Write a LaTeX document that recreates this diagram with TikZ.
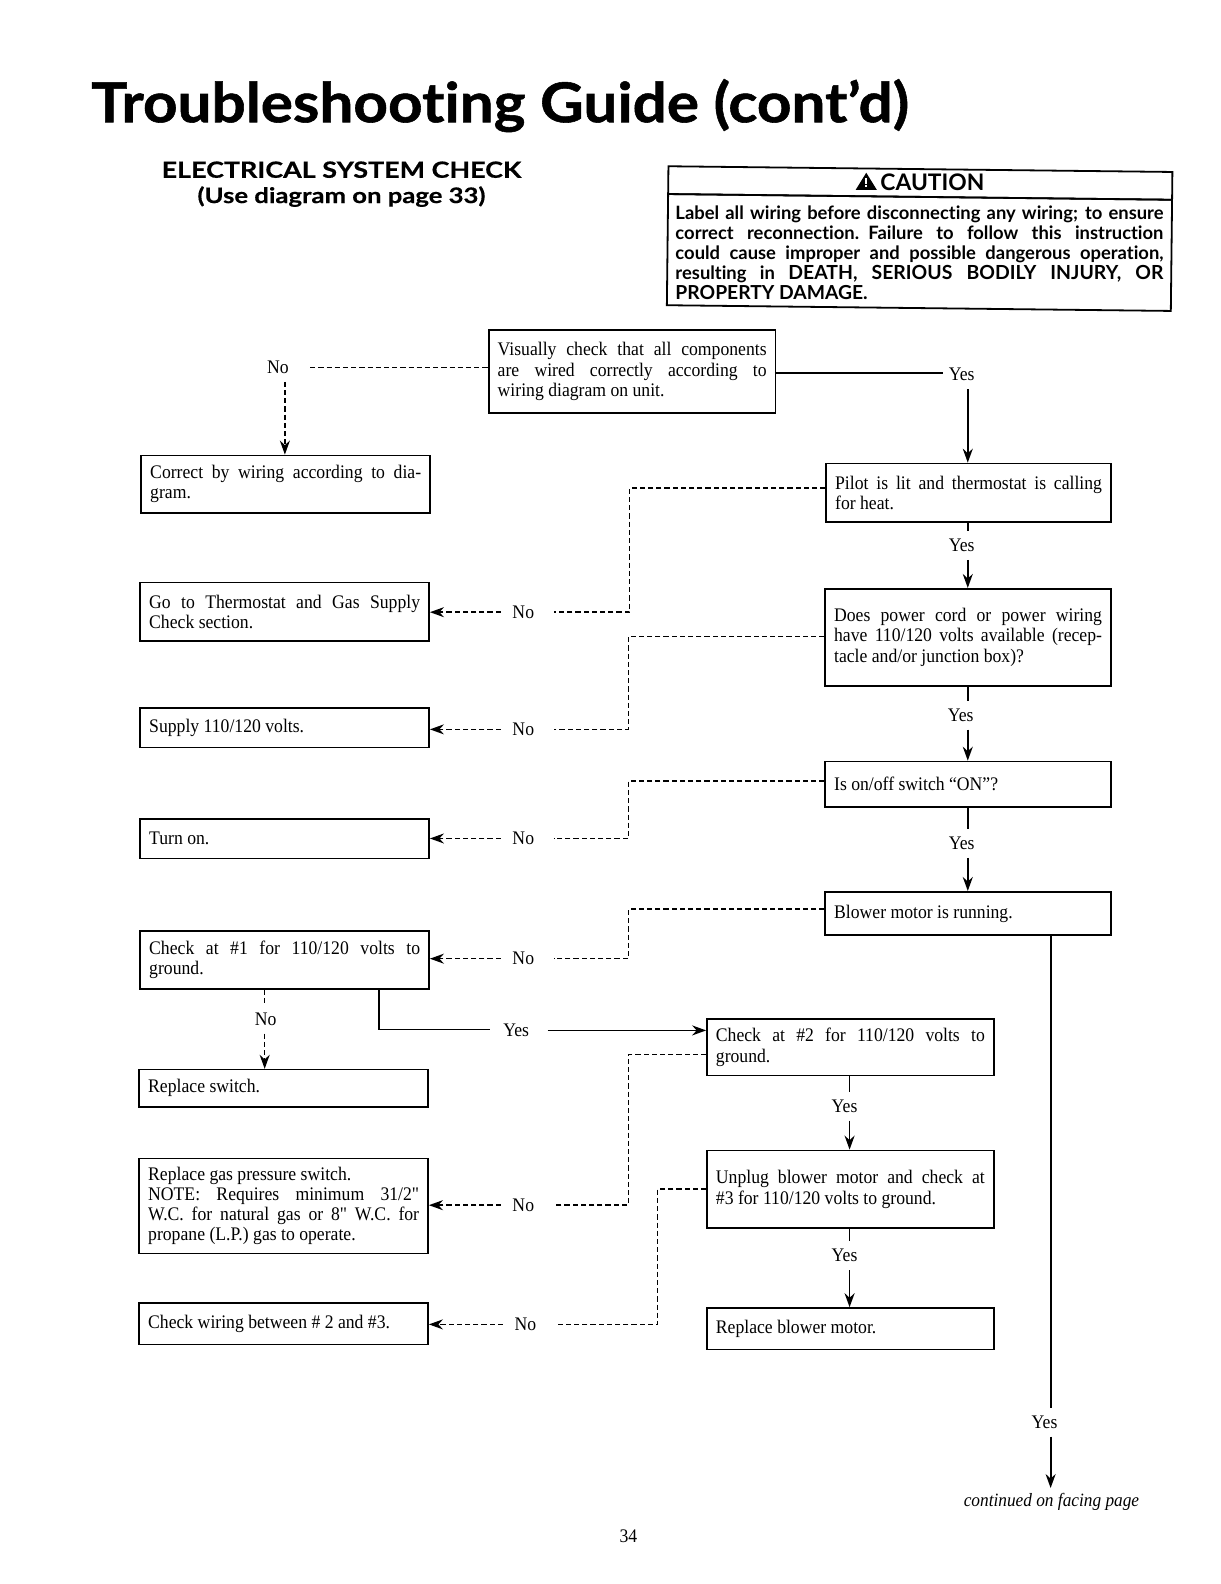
\documentclass[tikz,border=0pt]{standalone}
\usepackage{fontspec}
\setmainfont[FakeStretch=0.92]{Liberation Serif}
\newfontfamily\quotefont[FakeStretch=0.92]{Liberation Serif}
\newcommand{\straightq}{{\quotefont"}}
\newfontfamily\headfont[Ligatures=NoCommon]{Lato}
\newfontfamily\headwide[Ligatures=NoCommon,FakeStretch=1.2,BoldFeatures={FakeBold=0.5}]{Lato}
\newfontfamily\titlefont[Ligatures=NoCommon,FakeStretch=1.095,BoldFeatures={FakeBold=1}]{Lato}
\usetikzlibrary{arrows.meta}
\newcommand{\jl}[1]{\leavevmode\hbox to \hsize{#1}}
\newcommand{\flowbox}[6]{%
  \pgfmathsetmacro{\bw}{(#4-#2)*0.505102-9}%
  \pgfmathsetmacro{\bh}{(#5-#3)*0.505102}%
  \node[flowbox style,anchor=north west,text width=\bw pt,minimum height=\bh pt] (#1) at (#2,#3) {\spaceskip=0pt\relax #6};%
}
\tikzset{
  x=0.505102pt,y=-0.505102pt,
  flowbox style/.style={draw=black,line width=0.8pt,inner xsep=4.5pt,inner ysep=0pt,align=left,
    font=\fontsize{9.6}{10.1}\selectfont},
  answer/.style={inner sep=0pt,minimum width=26pt,minimum height=14pt,font=\fontsize{9.6}{10}\selectfont},
  dashline/.style={line width=0.7pt,dash pattern=on 2.6pt off 1.5pt},
  solidline/.style={line width=0.9pt},
  tip/.style={-{Stealth[length=7pt,width=5pt]}},
  plain/.style={inner sep=0pt},
}
\begin{document}
\begin{tikzpicture}
\useasboundingbox (0,0) rectangle (1207.68,1568);
\fill[white] (0,0) rectangle (1207.68,1568);

% Headings
\node[plain,anchor=base west] (title) at (90,121) {\titlefont\bfseries\fontsize{27.5}{30}\selectfont Troubleshooting Guide (cont’d)};
\node[plain,anchor=base] (head1) at (338,176) {\headwide\bfseries\fontsize{11.2}{14}\selectfont ELECTRICAL SYSTEM CHECK};
\node[plain,anchor=base] (head2) at (338,201) {\headwide\bfseries\fontsize{10.7}{14}\selectfont (Use diagram on page 33)};

% Caution panel: the frame follows the slight skew of the page
\begin{scope}[rotate around={-0.65:(910,235)},every node/.append style={transform shape}]
\node[draw=black,line width=0.9pt,anchor=north west,minimum width=252pt,minimum height=13.9pt,inner sep=0pt] (cauthead) at (660,166.5) {};
\node[draw=black,line width=0.9pt,anchor=north west,minimum width=252pt,minimum height=55.6pt,inner sep=0pt] (cautframe) at (660,194) {};
\end{scope}
\node[plain,anchor=base] (cauttext) at (923,189) {\headfont\bfseries\fontsize{11.4}{12}\selectfont CAUTION};
\fill (847,188) -- (857.5,171) -- (868,188) -- cycle;
\fill[white] (856.5,176) rectangle (858.5,182);
\fill[white] (856.5,183.5) rectangle (858.5,185.5);
\node[anchor=center,text width=244pt,inner sep=0pt,align=left,
  font=\headfont\bfseries\fontsize{9.2}{10}\selectfont] (cautbody) at (cautframe.center) {\spaceskip=0pt\relax
\jl{Label all wiring before disconnecting any wiring; to ensure}\\
\jl{correct reconnection. Failure to follow this instruction}\\
\jl{could cause improper and possible dangerous operation,}\\
\jl{resulting in {\fontsize{9.7}{10}\selectfont DEATH, SERIOUS BODILY INJURY, OR}}\\
{\fontsize{9.65}{10}\selectfont PROPERTY DAMAGE.}};

% Boxes: right column
\flowbox{visual}{483}{326}{767}{408}{\jl{Visually check that all components}\\\jl{are wired correctly according to}\\wiring diagram on unit.}
\flowbox{pilot}{817}{458}{1099}{516}{\jl{Pilot is lit and thermostat is calling}\\for heat.}
\flowbox{power}{816}{582}{1099}{678}{\jl{Does power cord or power wiring}\\\jl{have 110/120 volts available (recep-}\\tacle and/or junction box)?}
\flowbox{onoff}{816}{753}{1099}{798}{Is on/off switch “ON”?}
\flowbox{blower}{816}{882}{1099}{925}{Blower motor is running.}
\flowbox{checktwo}{699}{1008}{983}{1064}{\jl{Check at \#2 for 110/120 volts to}\\ground.}
\flowbox{unplug}{699}{1138}{983}{1215}{\jl{Unplug blower motor and check at}\\\#3 for 110/120 volts to ground.}
\flowbox{replblower}{699}{1294}{983}{1335}{Replace blower motor.}

% Boxes: left column
\flowbox{correct}{139}{450}{425}{507}{\jl{Correct by wiring according to dia-}\\gram.}
\flowbox{goto}{138}{576}{424}{634}{\jl{Go to Thermostat and Gas Supply}\\Check section.}
\flowbox{supply}{138}{700}{424}{739}{Supply 110/120 volts.}
\flowbox{turnon}{138}{810}{424}{849}{Turn on.}
\flowbox{checkone}{138}{921}{424}{978}{\jl{Check at \#1 for 110/120 volts to}\\ground.}
\flowbox{replswitch}{137}{1058}{423}{1095}{Replace switch.}
\flowbox{replgas}{137}{1146}{423}{1240}{Replace gas pressure switch.\\\jl{NOTE: Requires minimum 31/2\straightq}\\\jl{W.C. for natural gas or 8\straightq{} W.C. for}\\propane (L.P.) gas to operate.}
\flowbox{wiring}{137}{1289}{423}{1330}{Check wiring between \# 2 and \#3.}

% Answer labels
\node[answer] (noA) at (275,364) {No};
\node[answer] (yesA) at (952,371) {Yes};
\node[answer] (yesB) at (952,540) {Yes};
\node[answer] (noB) at (518,606) {No};
\node[answer] (yesC) at (951,708) {Yes};
\node[answer] (noC) at (518,722) {No};
\node[answer] (noD) at (518,830) {No};
\node[answer] (yesD) at (952,835) {Yes};
\node[answer] (noE) at (518,949) {No};
\node[answer] (noF) at (263,1009) {No};
\node[answer] (yesE) at (511,1020) {Yes};
\node[answer] (yesF) at (836,1095) {Yes};
\node[answer] (noG) at (518,1193) {No};
\node[answer] (yesG) at (836,1243) {Yes};
\node[answer] (noH) at (520,1311) {No};
\node[answer] (yesH) at (1034,1408) {Yes};

\node[plain,anchor=east] (cont) at (1128,1487) {\itshape\fontsize{9.4}{10}\selectfont continued on facing page};
\node[plain] (pagenum) at (622,1521) {\fontsize{9.6}{10}\selectfont 34};

% Guide coordinates
\coordinate (xa) at (282,378);
\coordinate (xr) at (958,0);
\coordinate (xm) at (841,0);
\coordinate (xl) at (262,0);
\coordinate (xo) at (1040,0);
\coordinate (ca) at (623,483);
\coordinate (cb) at (622,630);
\coordinate (cc) at (622,773);
\coordinate (cd) at (622,900);
\coordinate (ce) at (622,1044);
\coordinate (cf) at (651,1177);
\coordinate (cg) at (375,1019);
\coordinate (ch) at (767,369);
\coordinate (ci) at (307,364);
\coordinate (cj) at (1040,1422);
\coordinate (ck) at (1040,1473);
\coordinate (cl) at (542,1020);
\coordinate (cm) at (933,369);

% Top
\draw[dashline] (ci) -- (ci -| visual.west);
\draw[dashline,tip] (xa) -- (xa |- correct.north);
\draw[solidline] (ch) -- (cm);
\draw[solidline,tip] (xr |- yesA.south) -- (xr |- pilot.north);

% Right column, Yes
\draw[solidline] (xr |- pilot.south) -- (xr |- yesB.north);
\draw[solidline,tip] (xr |- yesB.south) -- (xr |- power.north);
\draw[solidline] (xr |- power.south) -- (xr |- yesC.north);
\draw[solidline,tip] (xr |- yesC.south) -- (xr |- onoff.north);
\draw[solidline] (xr |- onoff.south) -- (xr |- yesD.north);
\draw[solidline,tip] (xr |- yesD.south) -- (xr |- blower.north);
\draw[solidline] (xo |- blower.south) -- (xo |- yesH.north);
\draw[solidline,tip] (cj) -- (ck);
\draw[solidline] (xm |- checktwo.south) -- (xm |- yesF.north);
\draw[solidline,tip] (xm |- yesF.south) -- (xm |- unplug.north);
\draw[solidline] (xm |- unplug.south) -- (xm |- yesG.north);
\draw[solidline,tip] (xm |- yesG.south) -- (xm |- replblower.north);

% Dashed No branches
\draw[dashline] (ca -| pilot.west) -- (ca) |- ([xshift=2pt]noB.east);
\draw[dashline,tip] ([xshift=2pt]noB.west) -- (noB.west -| goto.east);
\draw[dashline] (cb -| power.west) -- (cb) |- ([xshift=2pt]noC.east);
\draw[dashline,tip] ([xshift=2pt]noC.west) -- (noC.west -| supply.east);
\draw[dashline] (cc -| onoff.west) -- (cc) |- ([xshift=2pt]noD.east);
\draw[dashline,tip] ([xshift=2pt]noD.west) -- (noD.west -| turnon.east);
\draw[dashline] (cd -| blower.west) -- (cd) |- ([xshift=2pt]noE.east);
\draw[dashline,tip] ([xshift=2pt]noE.west) -- (noE.west -| checkone.east);
\draw[dashline] (ce -| checktwo.west) -- (ce) |- ([xshift=2pt]noG.east);
\draw[dashline,tip] ([xshift=2pt]noG.west) -- (noG.west -| replgas.east);
\draw[dashline] (cf -| unplug.west) -- (cf) |- ([xshift=2pt]noH.east);
\draw[dashline,tip] ([xshift=2pt]noH.west) -- (noH.west -| wiring.east);

% Check #1 branches
\draw[dashline] (xl |- checkone.south) -- (xl |- noF.north);
\draw[dashline,tip] (xl |- noF.south) -- (xl |- replswitch.north);
\draw[solidline] (cg |- checkone.south) -- (cg) -- (cg -| yesE.west);
\draw[solidline,tip] (cl) -- (cl -| checktwo.west);
\end{tikzpicture}
\end{document}
